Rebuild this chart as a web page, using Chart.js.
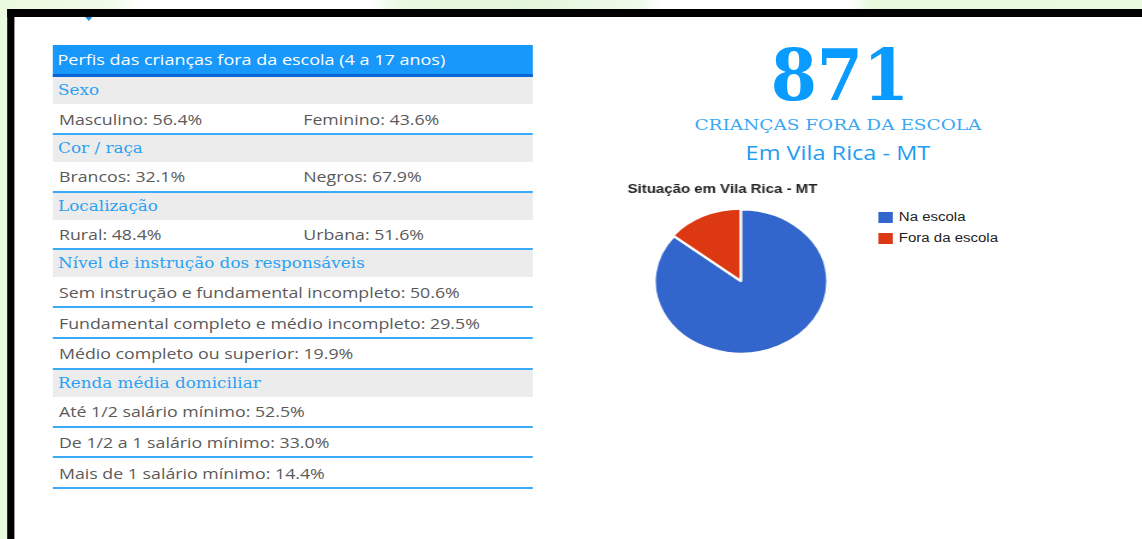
<!DOCTYPE html>
<html lang="pt-BR">
<head>
<meta charset="utf-8">
<title>Crianças fora da escola - Vila Rica - MT</title>
<script src="https://cdn.jsdelivr.net/npm/chart.js@4"></script>
<style>
  * { box-sizing: border-box; }
  html, body { margin: 0; padding: 0; }
  body {
    width: 1142px; height: 539px; overflow: hidden; position: relative;
    background: linear-gradient(90deg, #eafade 0px, #f0fbe9 110px, #ffffff 140px, #ffffff 370px,
      #eaf9e1 400px, #e3f5da 520px, #eefaea 640px, #ffffff 660px, #ffffff 850px, #e7f8dd 870px, #eafade 1142px);
  }
  /* a captura original está esticada na horizontal: desenha em 952px e estica para 1142px */
  #pagina { position: absolute; left: 0; top: 0; width: 952px; height: 539px;
    transform: scaleX(1.2); transform-origin: 0 0; font-family: "Open Sans", sans-serif; }
  #moldura { position: absolute; left: 6.1px; top: 9.3px; width: 960px; height: 560px; background: #fff;
    border-top: 8px solid #000; border-left: 6.4px solid #000; }
  .seta { position: absolute; left: 70.5px; top: 17px; width: 0; height: 0;
    border-left: 3.5px solid transparent; border-right: 3.5px solid transparent; border-top: 4px solid #1c8fe6; }

  #tabela { position: absolute; left: 44.4px; top: 44.5px; width: 400px; }
  .cab { height: 32.5px; line-height: 29.5px; background: #1898fa; border-bottom: 3px solid #0866d6;
    color: #fff; font-size: 15px; padding-left: 3.5px; white-space: nowrap; }
  .secao { height: 27px; line-height: 27px; background: #ececec; color: #2aa2f3;
    font-family: "DejaVu Serif", serif; font-size: 14px; padding-left: 4px; white-space: nowrap; }
  .linha { position: relative; height: 30.8px; border-bottom: 2px solid #3aabf7;
    color: #5a5a5a; font-size: 14.8px; white-space: nowrap; }
  .linha span { position: absolute; top: 0.5px; line-height: 28.8px; }

  .destaque { position: absolute; text-align: center; white-space: nowrap; }
  #numero { left: 600px; width: 200px; top: 47.4px; font-family: "DejaVu Serif", serif; font-weight: bold;
    font-size: 71px; line-height: 56px; height: 56px; color: #0a9bff; transform: scaleX(0.78); }
  #subtitulo { left: 548.3px; width: 300px; top: 118.3px; font-family: "DejaVu Serif", serif;
    font-size: 15.4px; line-height: 15.4px; color: #3aa7f4; }
  #local { left: 548.3px; width: 300px; top: 142.6px; font-size: 19.6px; line-height: 19.6px; color: #239df2; }

  #grafico { position: absolute; left: 523.3px; top: 178px; }
  #legenda { position: absolute; left: 732px; top: 211.5px; font-family: Arial, "Liberation Sans", sans-serif;
    font-size: 12.5px; color: #222; }
  .item { position: relative; height: 21px; }
  .item i { position: absolute; left: 0; top: 0; width: 12px; height: 11px; }
  .item b { position: absolute; left: 17px; top: -2px; font-weight: normal; line-height: 15px; white-space: nowrap; }
</style>
</head>
<body>
<div id="pagina">
  <div id="moldura"></div>
  <div class="seta"></div>
  <div id="tabela"></div>
  <div id="numero" class="destaque"></div>
  <div id="subtitulo" class="destaque">CRIANÇAS FORA DA ESCOLA</div>
  <div id="local" class="destaque">Em Vila Rica - MT</div>
  <canvas id="grafico" width="189" height="178"></canvas>
  <div id="legenda"></div>
</div>

<script>
// Dados do gráfico de pizza
const categorias = ['Na escola', 'Fora da escola'];
const percentuais = [85.8, 14.2];
const cores = ['#3366cc', '#dc3912'];
const deslocamentos = [0, 3];

// Dados da tabela de perfis
const totalFora = 871;
const secoes = ['Sexo', 'Cor / raça', 'Localização', 'Nível de instrução dos responsáveis', 'Renda média domiciliar'];
const sexoRotulos = ['Masculino', 'Feminino'];
const sexoValores = [56.4, 43.6];
const corRotulos = ['Brancos', 'Negros'];
const corValores = [32.1, 67.9];
const localRotulos = ['Rural', 'Urbana'];
const localValores = [48.4, 51.6];
const instrucaoRotulos = ['Sem instrução e fundamental incompleto', 'Fundamental completo e médio incompleto', 'Médio completo ou superior'];
const instrucaoValores = [50.6, 29.5, 19.9];
const rendaRotulos = ['Até 1/2 salário mínimo', 'De 1/2 a 1 salário mínimo', 'Mais de 1 salário mínimo'];
const rendaValores = [52.5, 33.0, 14.4];

document.getElementById('numero').textContent = totalFora;

// monta a tabela
const tabela = document.getElementById('tabela');
tabela.innerHTML = '<div class="cab">Perfis das crianças fora da escola (4 a 17 anos)</div>';

function texto(rotulo, valor) {
  return rotulo + ': ' + valor.toFixed(1) + '%';
}

function secaoDupla(titulo, rotulos, valores) {
  tabela.insertAdjacentHTML('beforeend', '<div class="secao">' + titulo + '</div>');
  tabela.insertAdjacentHTML('beforeend',
    '<div class="linha"><span style="left:4.75px">' + texto(rotulos[0], valores[0]) + '</span>' +
    '<span style="left:208.3px">' + texto(rotulos[1], valores[1]) + '</span></div>');
}

function secaoLista(titulo, rotulos, valores) {
  tabela.insertAdjacentHTML('beforeend', '<div class="secao">' + titulo + '</div>');
  rotulos.forEach((r, i) => {
    tabela.insertAdjacentHTML('beforeend', '<div class="linha"><span style="left:4.75px">' + texto(r, valores[i]) + '</span></div>');
  });
}

secaoDupla(secoes[0], sexoRotulos, sexoValores);
secaoDupla(secoes[1], corRotulos, corValores);
secaoDupla(secoes[2], localRotulos, localValores);
secaoLista(secoes[3], instrucaoRotulos, instrucaoValores);
secaoLista(secoes[4], rendaRotulos, rendaValores);

// gráfico de pizza
const grafico = new Chart(document.getElementById('grafico'), {
  type: 'pie',
  data: {
    labels: categorias,
    datasets: [{
      data: percentuais,
      backgroundColor: cores,
      borderColor: '#ffffff',
      borderWidth: 2,
      offset: deslocamentos,
      hoverOffset: 0
    }]
  },
  options: {
    responsive: false,
    animation: false,
    layout: { padding: 0 },
    plugins: {
      title: {
        display: true,
        text: 'Situação em Vila Rica - MT',
        align: 'start',
        color: '#222',
        font: { family: 'Arial, "Liberation Sans", sans-serif', size: 12.5, weight: 'bold' },
        padding: { top: 4, bottom: 10 }
      },
      legend: { display: false },
      tooltip: { enabled: false }
    }
  }
});

// legenda ao lado, gerada pelo próprio Chart.js
const legenda = document.getElementById('legenda');
grafico.options.plugins.legend.labels.generateLabels(grafico).forEach(item => {
  legenda.insertAdjacentHTML('beforeend',
    '<div class="item"><i style="background:' + item.fillStyle + '"></i><b>' + item.text + '</b></div>');
});
</script>
</body>
</html>
